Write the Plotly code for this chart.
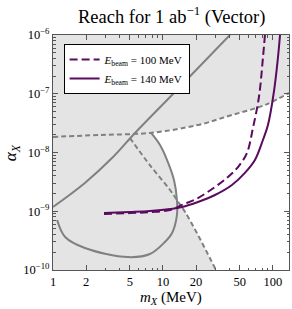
import plotly.graph_objects as go
import numpy as np

# ---- data ----
# upper gray solid line (constraint)
diag_m = [1.0, 1.95, 3.44, 5.57, 11.6, 40.6]
diag_a = [1.18e-9, 3.03e-9, 8.05e-9, 2.15e-8, 8.8e-8, 1.0e-6]

# rising gray dashed boundary
upper_m = [1.0, 2.67, 7.6, 20.8, 42.4, 84.6, 140]
upper_a = [1.84e-8, 1.99e-8, 2.15e-8, 2.94e-8, 4.35e-8, 6.44e-8, 1.03e-7]

# falling gray dashed boundary
fall_m = [5.0, 7.6, 11.6, 13.4, 15.9, 20.8, 30.3]
fall_a = [1.77e-8, 6.1e-9, 2.3e-9, 1.55e-9, 9.7e-10, 3.95e-10, 1.0e-10]

# gray solid loop
loop_m = [1.09, 1.29, 1.95, 4.8, 7.6, 10.4, 12.1, 13.4, 13.4, 12.6, 10.9, 9.4, 7.8]
loop_a = [7.1e-10, 3.65e-10, 2.37e-10, 1.66e-10, 1.87e-10, 3.0e-10, 4.27e-10,
          8.6e-10, 1.55e-9, 3.4e-9, 7.45e-9, 1.34e-8, 2.15e-8]

# reach curves
e100_m = [2.91, 5.0, 7.6, 11.6, 14.9, 20.8, 29.7, 39.0, 48.1, 58.0, 65.8, 74.6, 81.1, 84.6]
e100_a = [9.0e-10, 9.3e-10, 9.7e-10, 1.05e-9, 1.28e-9, 1.68e-9, 2.59e-9, 3.83e-9,
          5.66e-9, 9.8e-9, 2.61e-8, 8.8e-8, 4.06e-7, 1.0e-6]
e140_m = [2.91, 5.0, 7.6, 11.6, 14.9, 20.8, 29.7, 42.4, 55.6, 68.6, 81.1, 90.1, 102, 111, 116]
e140_a = [9.3e-10, 9.7e-10, 1.01e-9, 1.09e-9, 1.18e-9, 1.44e-9, 1.89e-9, 2.8e-9,
          4.5e-9, 7.45e-9, 1.63e-8, 2.94e-8, 1.07e-7, 4.06e-7, 1.0e-6]

x_ticks = [1, 2, 5, 10, 20, 50, 100]
x_ticktext = ["1", "2", "5", "10", "20", "50", "100"]
y_ticks = [1e-10, 1e-9, 1e-8, 1e-7, 1e-6]
y_ticktext = ["10<sup>−10</sup>", "10<sup>−9</sup>", "10<sup>−8</sup>",
              "10<sup>−7</sup>", "10<sup>−6</sup>"]

x_min, x_max = 1.0, 140.0
y_min, y_max = 1e-10, 1e-6

GRAY = "#808080"
PURPLE = "#5a0a5f"
SHADE = "#e4e4e4"
FONT = "Liberation Serif"

# white (allowed) region: loop right side down to crossing, then falling dashed,
# bottom-right corner, right edge, then back along upper dashed boundary
i_cross = 8  # loop point where it meets the falling dashed line
wx = list(reversed(loop_m[i_cross:])) + fall_m[4:] + [x_max, x_max] + list(reversed(upper_m[2:-1]))
wy = list(reversed(loop_a[i_cross:])) + fall_a[4:] + [y_min, upper_a[-1]] + list(reversed(upper_a[2:-1]))

fig = go.Figure()
fig.add_trace(go.Scatter(x=wx, y=wy, fill="toself", fillcolor="white",
                         line=dict(width=0), mode="lines", showlegend=False, hoverinfo="skip"))
fig.add_trace(go.Scatter(x=diag_m, y=diag_a, mode="lines", line=dict(color=GRAY, width=2, shape="spline"),
                         showlegend=False))
fig.add_trace(go.Scatter(x=upper_m, y=upper_a, mode="lines",
                         line=dict(color=GRAY, width=2, dash="5px,3px", shape="spline"), showlegend=False))
fig.add_trace(go.Scatter(x=fall_m, y=fall_a, mode="lines",
                         line=dict(color=GRAY, width=2, dash="5px,3px", shape="spline"), showlegend=False))
fig.add_trace(go.Scatter(x=loop_m, y=loop_a, mode="lines", line=dict(color=GRAY, width=2, shape="spline"),
                         showlegend=False))
fig.add_trace(go.Scatter(x=e100_m, y=e100_a, mode="lines",
                         line=dict(color=PURPLE, width=2, dash="8px,4px", shape="spline"),
                         name="<i>E</i><sub>beam</sub> = 100 MeV"))
fig.add_trace(go.Scatter(x=e140_m, y=e140_a, mode="lines",
                         line=dict(color=PURPLE, width=2, shape="spline"),
                         name="<i>E</i><sub>beam</sub> = 140 MeV"))

x_minor = [v for d in (1, 10, 100) for v in np.arange(2, 10) * d if v < x_max and v not in x_ticks]
y_minor = [k * 10.0 ** e for e in range(-10, -6) for k in range(2, 10)]

axis_common = dict(showgrid=False, zeroline=False, showline=True, linecolor="#555555", linewidth=1,
                   mirror="allticks", ticks="inside", ticklen=5, tickcolor="#555555",
                   tickfont=dict(family=FONT, size=12.5, color="black"))
fig.update_xaxes(type="log", range=[np.log10(x_min), np.log10(x_max)], tickvals=x_ticks,
                 ticktext=x_ticktext,
                 minor=dict(tickvals=x_minor, ticks="inside", ticklen=2.5, tickcolor="#555555"),
                 **axis_common)
fig.update_yaxes(type="log", range=[-10, -6], tickvals=y_ticks, ticktext=y_ticktext,
                 minor=dict(tickvals=y_minor, ticks="inside", ticklen=2.5, tickcolor="#555555"),
                 **axis_common)

fig.update_layout(
    width=292, height=309,
    margin=dict(l=53, r=3, t=35, b=39, autoexpand=False),
    paper_bgcolor="white", plot_bgcolor=SHADE,
    font=dict(family=FONT, color="black"),
    legend=dict(x=0.045, y=0.962, xanchor="left", yanchor="top", bgcolor="white",
                bordercolor="black", borderwidth=1, font=dict(family=FONT, size=11),
                tracegroupgap=0, itemwidth=30),
    annotations=[
        dict(text="Reach for 1 ab<sup>−1</sup> (Vector)", xref="paper", yref="paper",
             x=0.5, y=1.085, xanchor="center", yanchor="middle", showarrow=False,
             font=dict(family=FONT, size=18.5)),
        dict(text="<i>m</i><sub><i>X</i></sub> (MeV)", xref="paper", yref="paper",
             x=0.5, y=-0.166, xanchor="center", yanchor="bottom", showarrow=False,
             font=dict(family=FONT, size=15)),
        dict(text="<i>α</i><sub><i>X</i></sub>", xref="paper", yref="paper",
             x=-0.175, y=0.5, xanchor="center", yanchor="middle", showarrow=False,
             textangle=-90, font=dict(family=FONT, size=17)),
    ],
)

fig.write_html("out.html", config={"displayModeBar": False},
               post_script="document.body.style.margin='0';document.body.style.overflow='hidden';")
